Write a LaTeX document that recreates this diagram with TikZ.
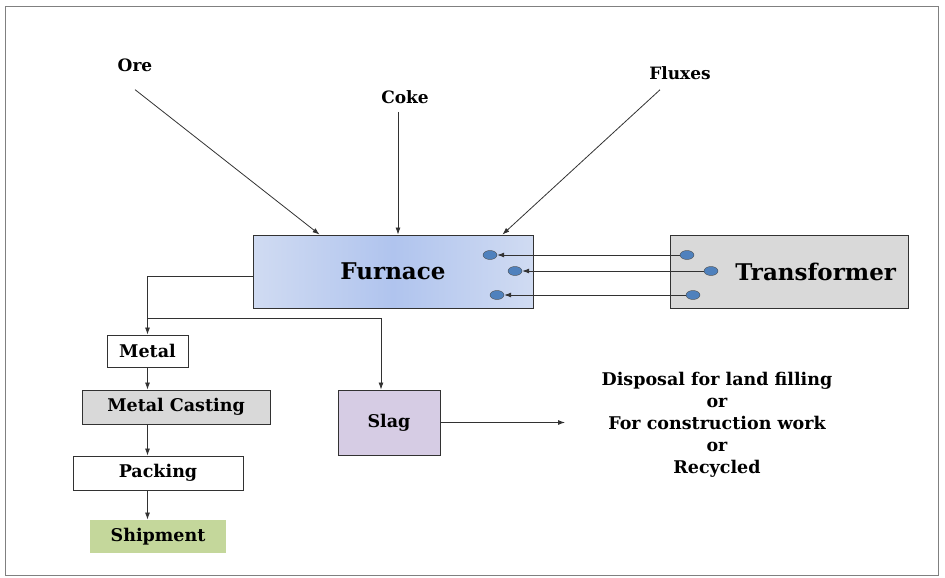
\documentclass[tikz,border=0pt]{standalone}
\usepackage{fontspec}
\setmainfont{DejaVu Serif}
\usetikzlibrary{arrows.meta,positioning,shapes.geometric}
\definecolor{furnaceedge}{RGB}{208,219,242}
\definecolor{furnacemid}{RGB}{176,196,238}
\definecolor{boxgray}{RGB}{217,217,217}
\definecolor{slagfill}{RGB}{214,204,228}
\definecolor{shipfill}{RGB}{196,215,155}
\definecolor{dotblue}{RGB}{79,129,189}
\definecolor{linegray}{RGB}{50,50,50}
\begin{document}
\begin{tikzpicture}
[x=1pt,y=-1pt,
  boxdecorate/.style={shape=rectangle,draw=linegray,line width=0.9pt,inner sep=0pt,font=\bfseries\fontsize{17.5}{20}\selectfont},%
  dotdecorate/.style={shape=ellipse,draw=black!70,fill=dotblue,minimum width=14pt,minimum height=9pt,inner sep=0pt},%
  labeldecorate/.style={font=\bfseries\fontsize{17}{20}\selectfont,inner sep=0pt},%
  linedecorate/.style={-{Latex[length=7pt,width=5pt]},draw=linegray,line width=0.8pt}]
\useasboundingbox (0,0) rectangle (945,578);
\draw[gray,line width=1pt] (5,7) rectangle (938,575);
%% main boxes
\node (furnace) at (393,271.5) [boxdecorate,minimum width=280pt,minimum height=73pt,
  left color=furnaceedge,right color=furnaceedge,middle color=furnacemid,
  font=\bfseries\fontsize{23}{26}\selectfont] {Furnace};
\node (transformer) at (789,271.5) [boxdecorate,fill=boxgray,minimum height=73pt,
  text width=214pt,inner xsep=12pt,align=right,
  font=\bfseries\fontsize{23}{26}\selectfont] {Transformer};
%% flow boxes
\foreach \nodename/\x/\y/\w/\h/\colour/\text in {metal/147.5/351/81/32/white/Metal,
  casting/176/407/188/34/boxgray/Metal Casting,
  packing/158/473/170/34/white/Packing,
  slag/389/422.5/102/65/slagfill/Slag} {
  \node (\nodename) at (\x,\y) [boxdecorate,fill=\colour,minimum width=\w pt,minimum height=\h pt] {\text};
}
\node (shipment) at (158,536.5) [boxdecorate,draw=none,fill=shipfill,minimum width=136pt,minimum height=33pt] {Shipment};
%% inputs
\node (ore) at (135,65) [labeldecorate] {Ore};
\node (coke) at (405,97) [labeldecorate] {Coke};
\node (fluxes) at (680,73) [labeldecorate] {Fluxes};
\node (disposal) at (717,425) [labeldecorate,align=center,font=\bfseries\fontsize{17.5}{22}\selectfont]
  {Disposal for land filling\\or\\For construction work\\or\\Recycled};
%% terminals
\foreach \nodename/\x/\y in {f1/490/255, f2/515/271, f3/497/295,
  t1/687/255, t2/711/271, t3/693/295} {
  \node (\nodename) at (\x,\y) [dotdecorate] {};
}
\coordinate (split) at (147.5,318);
\coordinate (slagend) at (565,422);
%% edges or lines
\draw[linedecorate] ([yshift=-18pt]ore.south) -- ([xshift=67pt]furnace.north west);
\draw[linedecorate] ([xshift=-7pt,yshift=-8pt]coke.south) -- ([xshift=5pt]furnace.north);
\draw[linedecorate] ([xshift=-20pt,yshift=-10pt]fluxes.south) -- ([xshift=-31pt]furnace.north east);
\foreach \startnode/\endnode in {t1/f1, t2/f2, t3/f3} {
  \draw[linedecorate] (\startnode) -- (\endnode);
}
\draw[linedecorate] ([yshift=-4.5pt]furnace.west) -| (metal);
\draw[linedecorate] (split) -| ([xshift=-8pt]slag.north);
\foreach \startnode/\endnode in {metal/casting, casting/packing, packing/shipment} {
  \draw[linedecorate] (metal.south |- \startnode.south) -- (metal.south |- \endnode.north);
}
\draw[linedecorate] (slag) -- (slag -| slagend);
\end{tikzpicture}
\end{document}
